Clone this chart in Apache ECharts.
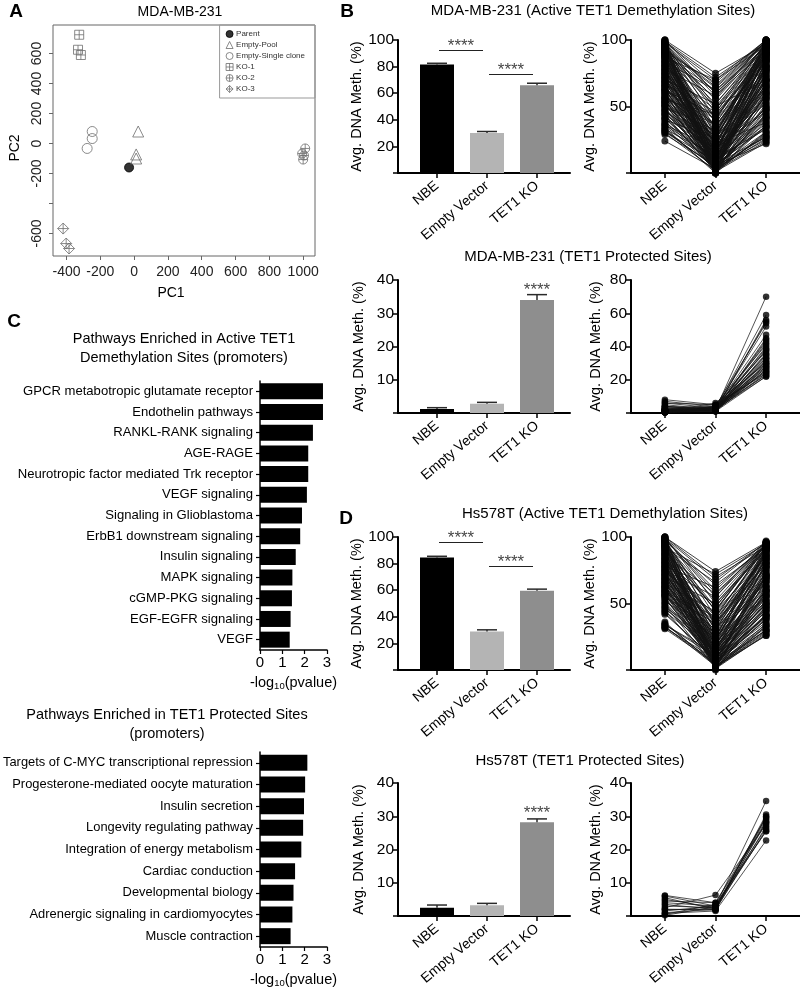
<!DOCTYPE html>
<html><head><meta charset="utf-8">
<script src="https://cdn.jsdelivr.net/npm/echarts@6/dist/echarts.min.js"></script>
<style>html,body{margin:0;padding:0;background:#fff}#c{width:800px;height:989px}</style>
</head><body><div id="c"></div>
<script>
const FONT = 'Liberation Sans, Arial, Helvetica, sans-serif';

// ---------- Panel A data (PCA) ----------
const pcaGroups = ['Parent','Empty-Pool','Empty-Single clone','KO-1','KO-2','KO-3'];
const pcaParent = [[-30,-160]];
const pcaEmptyPool = [[24,80],[12,-73],[12,-100]];
const pcaEmptySingle = [[-248,80],[-248,33],[-278,-33]];
const pcaKO1 = [[-325,725],[-332,625],[-315,590]];
const pcaKO2 = [[1012,-33],[994,-67],[1000,-107],[1005,-80]];
const pcaKO3 = [[-420,-567],[-402,-667],[-385,-700]];
const pcaXTicks = [-400,-200,0,200,400,600,800,1000];
const pcaYTicks = [-600,-400,-200,0,200,400,600];
const pcaYLabels = [-600,-200,0,200,400,600];

// ---------- Panel C data ----------
const c1Pathways = ['GPCR metabotropic glutamate receptor','Endothelin pathways','RANKL-RANK signaling','AGE-RAGE','Neurotropic factor mediated Trk receptor','VEGF signaling','Signaling in Glioblastoma','ErbB1 downstream signaling','Insulin signaling','MAPK signaling','cGMP-PKG signaling','EGF-EGFR signaling','VEGF'];
const c1Values = [2.82,2.82,2.37,2.16,2.16,2.1,1.88,1.8,1.6,1.45,1.43,1.37,1.33];
const c2Pathways = ['Targets of C-MYC transcriptional repression','Progesterone-mediated oocyte maturation','Insulin secretion','Longevity regulating pathway','Integration of energy metabolism','Cardiac conduction','Developmental biology','Adrenergic signaling in cardiomyocytes','Muscle contraction'];
const c2Values = [2.12,2.02,1.97,1.93,1.85,1.57,1.5,1.45,1.37];

// ---------- Panels B / D data ----------
const cats = ['NBE','Empty Vector','TET1 KO'];
const barColors = ['#000000','#b4b4b4','#8e8e8e'];

const mdaActiveMean = [81.5,30,66];
const mdaActiveErr = [1,1.2,1.5];
const mdaActiveSig = [[0,1,92.5],[1,2,74.5]];
const mdaProtMean = [1.2,2.8,34];
const mdaProtErr = [0.4,0.4,1.6];
const mdaProtStar = [[2,35.8]];
const hsActiveMean = [84.5,29,59.5];
const hsActiveErr = [1,1.2,1.3];
const hsActiveSig = [[0,1,96.2],[1,2,78.2]];
const hsProtMean = [2.5,3.2,28.2];
const hsProtErr = [0.8,0.6,1];
const hsProtStar = [[2,29.6]];

// paired per-site values [NBE, Empty Vector, TET1 KO]
const mdaActivePairs = [[99,72,98],[98,60,95],[97,45,99],[96,30,90],[95,12,88],[94,55,97],[93,5,80],[92,20,92],[91,68,100],[90,38,85],[89,8,75],[88,25,96],[87,50,70],[86,2,82],[85,15,94],[84,62,99],[83,33,78],[82,10,65],[81,42,91],[80,0,60],[79,22,87],[78,58,93],[77,6,72],[76,28,84],[75,48,98],[74,14,55],[73,3,68],[72,35,89],[71,18,62],[70,52,95],[69,9,50],[68,26,76],[67,40,83],[66,1,45],[65,16,71],[64,30,90],[63,7,58],[62,44,86],[61,20,66],[60,4,40],[58,12,74],[57,36,81],[56,24,52],[55,2,48],[54,10,63],[53,28,79],[52,6,35],[51,18,57],[50,32,92],[48,3,44],[47,14,69],[46,22,38],[45,8,54],[44,1,30],[42,16,61],[41,5,42],[40,26,73],[38,11,33],[37,3,50],[36,19,46],[35,7,27],[34,0,39],[33,13,56],[32,4,25],[31,9,35],[30,2,29],[29,6,22],[24,3,26],[100,75,97],[99,66,100],[98,50,93],[97,18,86],[96,40,99],[95,0,77],[94,28,96],[93,64,98],[92,10,67],[91,34,88],[90,56,100],[89,4,59],
  [100,20,95],[99,8,90],[98,2,85],[97,14,97],[96,5,80],[95,22,93],[94,10,88],[93,1,76],[92,16,99],[91,6,84],[90,26,97],[89,12,70],[88,3,91],[87,18,86],[86,8,94],[85,30,99],[84,4,73],[83,20,90],[82,2,81],[81,13,96],[80,35,88],[79,7,64],[78,1,79],[77,24,100],[76,11,67],[75,5,85],[74,40,94],[73,17,77],[72,0,56],[71,9,83],[70,29,98],[69,3,61],[68,15,88],[67,46,92],[66,7,70],[65,23,80],[64,0,47],[63,12,65],[62,37,95],[61,2,52],[60,18,78],[59,8,43],[58,27,85],[57,1,36],[56,13,60],[55,44,90],[54,5,41],[53,20,70],[52,0,31],[51,10,49],[50,25,64],[49,3,28],[48,15,58],[46,6,34],[44,18,48],[43,2,24],[41,9,37],[39,4,31],[36,12,42],[33,1,23],[31,5,27],[100,60,98],[98,70,96],[97,58,100],[96,48,92],[94,65,99],[93,42,89],[91,52,97],[89,62,95],[87,70,100]];
const mdaProtPairs = [[1,2,70],[2,3,59],[0.5,1.5,56],[3,2,55],[1,4,54],[6,3,52],[2,1.5,45],[0.5,2,44],[4,3,43],[1,2.5,42],[8,5,41],[2,1,40],[0.5,3,39],[1.5,2,38],[3,4,37],[0.5,1,36],[5,2,35],[1,3,34],[2,2,33],[0.5,1.5,32],[7,4,31],[1,2,31],[3,1,30],[0.5,2.5,29],[2,3.5,28],[1,1.5,28],[4,2,27],[0.5,3,27],[1.5,1,26],[2,2,26],[0.5,4,25],[1,2.5,25],[6,5,24],[2,1.5,24],[0.5,2,23],[1,3,23],[3,2,22],[0.5,1,22],[1,6,30],[2,2,35],[0.5,3,47],[1,2,38],[4,1.5,33],[0.5,2,29]];
const hsActivePairs = [[100,74,96],[99,60,95],[98,40,92],[97,22,90],[96,10,85],[95,52,94],[94,3,75],[93,30,88],[92,66,96],[91,15,80],[90,45,93],[89,8,70],[88,35,86],[87,57,95],[86,20,78],[85,2,60],[84,28,83],[83,48,91],[82,12,66],[81,38,87],[80,5,55],[79,24,76],[78,62,94],[77,16,68],[76,32,82],[75,9,50],[74,42,89],[73,18,62],[72,4,45],[71,26,72],[70,50,90],[69,12,58],[68,36,80],[67,6,40],[66,20,64],[65,44,85],[64,2,35],[63,14,54],[62,30,77],[61,8,48],[60,22,69],[59,40,84],[58,5,38],[57,16,57],[56,28,73],[55,3,30],[53,12,50],[52,24,66],[50,6,42],[48,18,60],[47,10,46],[45,2,28],[44,14,52],[43,7,36],[35,4,33],[34,10,44],[33,3,26],[32,8,40],[31,5,30],[100,70,93],[99,55,97],[98,33,89],[97,64,92],[96,25,91],[95,6,71],[94,47,96],[93,18,79],[92,72,95],
  [100,12,90],[99,3,82],[98,20,94],[97,6,77],[96,35,96],[95,15,86],[94,1,68],[93,25,91],[92,8,72],[91,45,95],[90,2,63],[89,18,84],[88,10,74],[87,30,92],[86,5,58],[85,22,88],[84,0,48],[83,14,70],[82,40,93],[81,4,52],[80,26,81],[79,9,61],[78,2,42],[77,33,86],[76,11,56],[75,55,94],[74,6,46],[73,20,71],[72,1,33],[71,15,60],[70,38,83],[69,4,39],[68,24,67],[67,10,50],[66,2,29],[65,17,59],[64,30,78],[63,6,41],[62,12,52],[61,1,27],[60,20,63],[59,8,44],[58,35,80],[57,3,32],[56,14,55],[55,25,70],[54,6,38],[51,10,47],[49,2,26],[46,16,56],[42,8,41],[36,3,30],[34,12,49],[32,6,34],[100,50,92],[99,68,96],[98,58,93],[97,44,95]];
const hsProtPairs = [[6,3,34.6],[5.5,2,30.5],[5,2.5,30],[4.5,4,29.5],[4,3,29],[3.5,2,28.5],[3,2.5,28],[2.5,6.3,27.5],[2,1.8,27],[1.5,3,26.5],[1,2,26],[0.5,3.5,25.5],[0.2,2.8,25.5],[6.2,4,28.2],[2,2,29.8],[0.8,1.5,22.7]];

// ---------- build ----------
const grid=[], xAxis=[], yAxis=[], series=[], graphic=[];
function txt(text,x,y,style,rotation){
  const el = {type:'text', x:x, y:y, silent:true, style:Object.assign({text:text, fill:'#000', fontSize:14, fontFamily:FONT, align:'center', textAlign:'center', verticalAlign:'middle', textVerticalAlign:'middle'}, style||{})};
  if (rotation) el.rotation = rotation;
  graphic.push(el);
}
const blackLine = {show:true, onZero:false, lineStyle:{color:'#000', width:2}};
const blackTick = {show:true, length:5, lineStyle:{color:'#000', width:1.5}};

// Panel A
grid.push({left:53, top:25, width:262, height:231, show:true, borderColor:'#666', borderWidth:1});
xAxis.push({gridIndex:0, type:'value', min:-480, max:1070, splitLine:{show:false},
  axisLine:{show:false, onZero:false},
  axisTick:{show:true, customValues:pcaXTicks, length:4, lineStyle:{color:'#666'}},
  axisLabel:{customValues:pcaXTicks, fontSize:14, color:'#222', margin:9, fontFamily:FONT, formatter:v => String(v)}});
yAxis.push({gridIndex:0, type:'value', min:-750, max:790, splitLine:{show:false},
  axisLine:{show:false, onZero:false},
  axisTick:{show:true, customValues:pcaYTicks, length:4, lineStyle:{color:'#666'}},
  axisLabel:{customValues:pcaYLabels, fontSize:14, color:'#222', margin:9, rotate:90, fontFamily:FONT, formatter:v => String(v)}});
const grayC = '#6e6e6e';
const pcaSymbols = [
  {name:'Parent', data:pcaParent, symbol:'circle', size:9, fill:'#000', stroke:'#000'},
  {name:'Empty-Pool', data:pcaEmptyPool, symbol:'triangle', size:11, fill:'rgba(0,0,0,0)', stroke:grayC},
  {name:'Empty-Single clone', data:pcaEmptySingle, symbol:'circle', size:10, fill:'rgba(0,0,0,0)', stroke:grayC},
  {name:'KO-1', data:pcaKO1, symbol:'path://M0,0H10V10H0Z M5,0V10 M0,5H10', size:9, fill:'rgba(0,0,0,0)', stroke:grayC},
  {name:'KO-2', data:pcaKO2, symbol:'path://M10,5A5,5,0,1,1,0,5A5,5,0,1,1,10,5Z M5,0V10 M0,5H10', size:9, fill:'rgba(0,0,0,0)', stroke:grayC},
  {name:'KO-3', data:pcaKO3, symbol:'path://M5,0L10,5L5,10L0,5Z M5,0V10 M0,5H10', size:11, fill:'rgba(0,0,0,0)', stroke:grayC}
];
pcaSymbols.forEach(s => series.push({type:'scatter', name:s.name, xAxisIndex:0, yAxisIndex:0, data:s.data,
  symbol:s.symbol, symbolSize:s.size, itemStyle:{color:s.fill, borderColor:s.stroke, borderWidth:1}}));
txt('A',16,12,{fontSize:19,fontWeight:'bold'});
txt('MDA-MB-231',180,12,{fontSize:14});
txt('PC1',171,293,{fontSize:14});
txt('PC2',15,148,{fontSize:14},Math.PI/2);

// Panel C
function cPanel(gi, top, height, names, vals, labelSize){
  grid.push({left:260, top:top, width:67, height:height});
  yAxis.push({gridIndex:gi, type:'category', inverse:true, data:names,
    axisLine:{show:true, lineStyle:{color:'#000', width:1.5}},
    axisTick:{show:true, alignWithLabel:true, length:4, lineStyle:{color:'#000', width:1.2}},
    axisLabel:{fontSize:labelSize, color:'#000', margin:7, fontFamily:FONT}});
  xAxis.push({gridIndex:gi, type:'value', min:0, max:3, interval:1, splitLine:{show:false},
    axisLine:{show:true, onZero:false, lineStyle:{color:'#000', width:1.5}},
    axisTick:{show:true, length:4, lineStyle:{color:'#000', width:1.2}},
    axisLabel:{fontSize:15, color:'#000', margin:5, fontFamily:FONT},
    name:'-log{sub|10}(pvalue)', nameLocation:'middle', nameGap:25,
    nameTextStyle:{fontSize:14.5, color:'#000', fontFamily:FONT, rich:{sub:{fontSize:9.5, verticalAlign:'bottom', padding:[6,0,0,0], fontFamily:FONT}}}});
  series.push({type:'bar', xAxisIndex:gi, yAxisIndex:gi, data:vals, barWidth:16, itemStyle:{color:'#000'}});
}
cPanel(1, 381, 269, c1Pathways, c1Values, 13.1);
cPanel(2, 752, 197, c2Pathways, c2Values, 12.9);
txt('C',14,322,{fontSize:19,fontWeight:'bold'});
txt('Pathways Enriched in Active TET1\nDemethylation Sites (promoters)',184,348,{fontSize:14.5, lineHeight:19});
txt('Pathways Enriched in TET1 Protected Sites\n(promoters)',167,724,{fontSize:14.5, lineHeight:19});

// Panels B / D
const rows = [
  {top:40, title:'MDA-MB-231 (Active TET1 Demethylation Sites)', tx:593, ty:11, mean:mdaActiveMean, err:mdaActiveErr, sig:mdaActiveSig, star:[], barMax:100, barInt:20, lineMax:100, lineInt:50, pairs:mdaActivePairs, dense:true},
  {top:280, title:'MDA-MB-231 (TET1 Protected Sites)', tx:588, ty:257, mean:mdaProtMean, err:mdaProtErr, sig:[], star:mdaProtStar, barMax:40, barInt:10, lineMax:80, lineInt:20, pairs:mdaProtPairs},
  {top:537, title:'Hs578T (Active TET1 Demethylation Sites)', tx:605, ty:514, mean:hsActiveMean, err:hsActiveErr, sig:hsActiveSig, star:[], barMax:100, barInt:20, lineMax:100, lineInt:50, pairs:hsActivePairs, dense:true},
  {top:783, title:'Hs578T (TET1 Protected Sites)', tx:580, ty:761, mean:hsProtMean, err:hsProtErr, sig:[], star:hsProtStar, barMax:40, barInt:10, lineMax:40, lineInt:10, pairs:hsProtPairs}
];
function renderErr(params, api){
  const x = api.value(0), lo = api.value(1), hi = api.value(2);
  const p0 = api.coord([x, lo]), p1 = api.coord([x, hi]);
  const hw = 10;
  return {type:'group', children:[
    {type:'line', shape:{x1:p0[0], y1:p0[1], x2:p1[0], y2:p1[1]}, style:{stroke:'#2a2a2a', lineWidth:1.5}},
    {type:'line', shape:{x1:p1[0]-hw, y1:p1[1], x2:p1[0]+hw, y2:p1[1]}, style:{stroke:'#2a2a2a', lineWidth:1.5}}
  ]};
}
function yAx(gi, max, interval){
  return {gridIndex:gi, type:'value', min:0, max:max, interval:interval, splitLine:{show:false},
    axisLine:blackLine, axisTick:blackTick,
    axisLabel:{fontSize:15.5, color:'#000', margin:4, fontFamily:FONT, formatter:v => v===0 ? '' : String(v)},
    name:'Avg. DNA Meth. (%)', nameLocation:'middle', nameGap:32,
    nameTextStyle:{fontSize:14.5, color:'#000', fontFamily:FONT}};
}
function xAx(gi, min, max){
  return {gridIndex:gi, type:'value', min:min, max:max, splitLine:{show:false},
    axisLine:blackLine, axisTick:Object.assign({customValues:[0,1,2]}, blackTick),
    axisLabel:{customValues:[0,1,2], formatter:v => cats[v], rotate:40, fontSize:14, color:'#000', margin:11, fontFamily:FONT}};
}
let gi = 3;
rows.forEach(r => {
  const gb = gi, gl = gi+1; gi += 2;
  grid.push({left:398, top:r.top, width:172, height:133});
  grid.push({left:631, top:r.top, width:169, height:133});
  xAxis.push(xAx(gb, -0.78, 2.66));
  yAxis.push(yAx(gb, r.barMax, r.barInt));
  xAxis.push(xAx(gl, -0.67, 2.67));
  const ly = yAx(gl, r.lineMax, r.lineInt); ly.nameGap = 28;
  yAxis.push(ly);
  series.push({type:'bar', xAxisIndex:gb, yAxisIndex:gb, barWidth:34,
    data:r.mean.map((m,i)=>({value:[i,m], itemStyle:{color:barColors[i]}}))});
  series.push({type:'custom', xAxisIndex:gb, yAxisIndex:gb, renderItem:renderErr, encode:{x:0, y:[1,2]},
    data:r.err.map((e,i)=>[i, r.mean[i], r.mean[i]+e]), z:3});
  r.sig.forEach(s => {
    series.push({type:'lines', coordinateSystem:'cartesian2d', xAxisIndex:gb, yAxisIndex:gb,
      data:[{coords:[[s[0]+0.04, s[2]],[s[1]-0.08, s[2]]]}], lineStyle:{color:'#222', width:1, opacity:1}, silent:true});
    series.push({type:'scatter', xAxisIndex:gb, yAxisIndex:gb, data:[[(s[0]+s[1])/2 - 0.02, s[2]]], symbolSize:1,
      itemStyle:{color:'rgba(0,0,0,0)'}, silent:true,
      label:{show:true, position:'top', distance:-5, formatter:'****', fontSize:17, color:'#111', fontFamily:FONT}});
  });
  r.star.forEach(s => {
    series.push({type:'scatter', xAxisIndex:gb, yAxisIndex:gb, data:[s], symbolSize:1,
      itemStyle:{color:'rgba(0,0,0,0)'}, silent:true,
      label:{show:true, position:'top', distance:-5, formatter:'****', fontSize:17, color:'#111', fontFamily:FONT}});
  });
  series.push({type:'lines', coordinateSystem:'cartesian2d', polyline:true, xAxisIndex:gl, yAxisIndex:gl,
    data:r.pairs.map(p => ({coords:[[0,p[0]],[1,p[1]],[2,p[2]]]})),
    lineStyle:{color:'#111', width:r.dense ? 1 : 0.9, opacity:0.8}, silent:true});
  series.push({type:'scatter', xAxisIndex:gl, yAxisIndex:gl, symbolSize:r.dense ? 7 : 6.5, itemStyle:{color:'#000'}, silent:true,
    data:r.pairs.flatMap(p => [[0,p[0]],[1,p[1]],[2,p[2]]])});
  txt(r.title, r.tx, r.ty, {fontSize:15});
});
txt('B',347,12,{fontSize:19,fontWeight:'bold'});
txt('D',346,519,{fontSize:19,fontWeight:'bold'});

const chart = echarts.init(document.getElementById('c'), null, {renderer:'canvas', width:800, height:989});
chart.setOption({
  animation:false,
  backgroundColor:'#fff',
  textStyle:{fontFamily:FONT},
  legend:{data:pcaSymbols.map(s => ({name:s.name, icon:s.symbol,
      itemStyle:{color:s.fill, borderColor:s.stroke, borderWidth:1}})),
    orient:'vertical', right:485, top:25, borderColor:'#999', borderWidth:1,
    padding:[5,10,5,6], itemWidth:7, itemHeight:7, itemGap:3,
    textStyle:{fontSize:8, color:'#333', fontFamily:FONT, padding:[0,0,0,-2]}},
  grid:grid, xAxis:xAxis, yAxis:yAxis, series:series, graphic:graphic
});
</script></body></html>
